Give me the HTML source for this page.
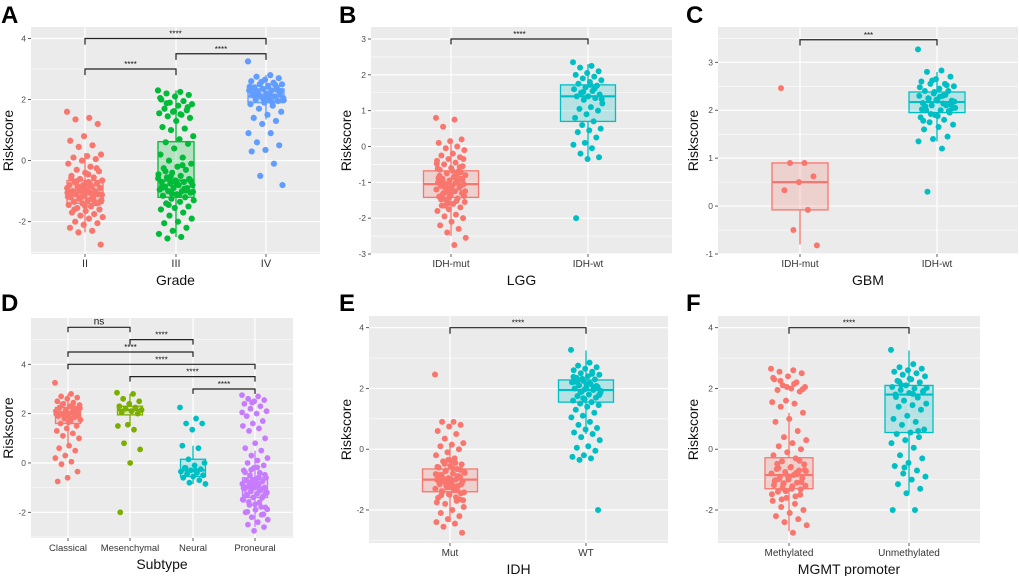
<!DOCTYPE html>
<html><head><meta charset="utf-8"><style>
html,body{margin:0;padding:0;background:#fff;}
svg{display:block;font-family:"Liberation Sans",Arial,sans-serif;}
</style></head><body>
<svg id="fig" width="1020" height="576" viewBox="0 0 1020 576"></svg>
<script>
// ---------- Panel A (Grade) ----------
const A_cats=['II','III','IV'];
const A_q1=[-1.4,-1.2,1.9], A_med=[-1.05,-0.65,2.1], A_q3=[-0.65,0.62,2.35], A_lo=[-2.35,-2.5,1.35], A_hi=[0.25,2.3,2.8];
const A_pts=[
[1.6,1.4,1.35,1.2,0.8,0.65,0.5,0.45,0.2,0.15,0.1,0.05,0,-0.1,-0.2,-0.3,-0.35,-0.4,-0.5,-0.55,-0.6,-0.65,-0.7,-0.7,-0.75,-0.8,-0.8,-0.85,-0.9,-0.9,-0.95,-1,-1,-1,-1.05,-1.05,-1.1,-1.1,-1.15,-1.2,-1.2,-1.25,-1.3,-1.3,-1.35,-1.4,-1.4,-1.45,-1.5,-1.55,-1.6,-1.65,-1.7,-1.75,-1.8,-1.85,-1.9,-2,-2.05,-2.1,-2.2,-2.3,-2.35,-2.75,-0.95,-1.02,-1.08,-0.88,-1.18,-0.78,-0.68,-1.38,-1.48,-0.58,-1.28,-0.98,-1.12,-0.45,-1.6,-0.25,-0.92,-1.15,-1.25,-0.85,-1.35,-0.75,-1.0,-1.1,-1.2,-0.9],
[2.3,2.25,2.2,2.15,2.1,2.0,1.95,1.9,1.85,1.8,1.7,1.65,1.6,1.55,1.5,1.45,1.4,1.3,1.1,1.05,1.0,0.8,0.7,0.6,0.55,0.4,0.2,0.1,0,-0.1,-0.2,-0.25,-0.3,-0.4,-0.45,-0.5,-0.55,-0.6,-0.65,-0.7,-0.7,-0.75,-0.8,-0.8,-0.85,-0.9,-0.9,-0.95,-1.0,-1.0,-1.05,-1.1,-1.15,-1.2,-1.25,-1.3,-1.35,-1.4,-1.5,-1.55,-1.6,-1.7,-1.8,-1.9,-2.0,-2.05,-2.2,-2.3,-2.4,-2.5,-2.55,-0.62,-0.72,-0.82,-0.92,-0.52,-1.02,-1.12,-0.35,1.75,1.62,2.05,-0.15,-1.45,-0.68,-0.78,-0.88,-0.98,-1.08,-0.58,1.52,1.88],
[3.25,2.8,2.75,2.7,2.65,2.6,2.55,2.5,2.5,2.45,2.4,2.4,2.35,2.3,2.3,2.25,2.2,2.2,2.15,2.1,2.1,2.05,2.0,2.0,1.95,1.9,1.85,1.8,1.7,1.6,1.5,1.4,1.3,1.2,0.9,0.9,0.6,0.5,0.35,0.3,-0.1,-0.5,-0.8,2.12,2.22,2.32,2.02,2.42,1.92,2.18,2.28,2.08,2.38,2.48,2.58,1.98,2.15,2.25]
];
// ---------- Panel B (LGG) ----------
const B_cats=['IDH-mut','IDH-wt'];
const B_q1=[-1.42,0.7], B_med=[-1.05,1.4], B_q3=[-0.68,1.72], B_lo=[-2.5,-0.35], B_hi=[0.15,2.3];
const B_pts=[
[0.8,0.75,0.55,0.2,0.15,0.1,0,-0.05,-0.1,-0.2,-0.25,-0.3,-0.35,-0.4,-0.45,-0.5,-0.55,-0.6,-0.65,-0.7,-0.75,-0.8,-0.85,-0.9,-0.9,-0.95,-1,-1,-1.05,-1.05,-1.1,-1.1,-1.15,-1.2,-1.2,-1.25,-1.3,-1.3,-1.35,-1.4,-1.45,-1.5,-1.55,-1.6,-1.65,-1.7,-1.75,-1.8,-1.9,-1.95,-2.0,-2.1,-2.2,-2.3,-2.4,-2.55,-2.75,-0.98,-1.08,-1.18,-0.88,-0.78,-1.28,-1.38,-0.68,-1.48,-0.58,-1.58,-0.48,-1.02,-1.12,-0.92,-1.22,-0.82,-0.95,-1.15,-1.25,-0.85,-1.35,-0.72,-1.42,-0.62,-1.52,-1.65,-0.35],
[2.35,2.25,2.2,2.1,2.05,2.0,1.95,1.9,1.85,1.8,1.75,1.7,1.65,1.6,1.55,1.5,1.45,1.4,1.4,1.35,1.3,1.2,1.1,1.05,1.0,0.9,0.8,0.7,0.6,0.5,0.45,0.4,0.25,0.1,0.05,-0.05,-0.2,-0.3,-0.35,-2.0,1.62,1.52,1.32,1.72]
];
// ---------- Panel C (GBM) ----------
const C_cats=['IDH-mut','IDH-wt'];
const C_q1=[-0.08,1.95], C_med=[0.5,2.17], C_q3=[0.9,2.38], C_lo=[-0.8,1.35], C_hi=[0.9,2.8];
const C_pts=[
[2.46,0.9,0.9,0.62,0.5,0.33,-0.08,-0.5,-0.82],
[3.27,2.83,2.8,2.7,2.65,2.6,2.55,2.55,2.5,2.45,2.4,2.4,2.35,2.3,2.3,2.25,2.2,2.2,2.15,2.1,2.1,2.05,2.0,2.0,1.95,1.9,1.85,1.8,1.75,1.7,1.65,1.6,1.45,1.4,1.35,1.2,0.3,2.12,2.22,2.02,2.32,1.92,2.18,2.28,2.08,1.98,2.38,2.48,2.14,2.24,2.04,1.88,1.78,2.52,2.62]
];
// ---------- Panel D (Subtype) ----------
const D_cats=['Classical','Mesenchymal','Neural','Proneural'];
const D_q1=[1.6,1.95,-0.55,-1.4], D_med=[2.0,2.15,-0.3,-1.0], D_q3=[2.25,2.3,0.15,-0.6], D_lo=[0.7,1.5,-0.85,-2.6], D_hi=[2.8,2.8,0.7,0.5];
const D_pts=[
[3.25,2.8,2.7,2.65,2.6,2.5,2.45,2.4,2.35,2.3,2.25,2.2,2.15,2.1,2.05,2.0,2.0,1.95,1.9,1.85,1.8,1.75,1.7,1.6,1.5,1.4,1.3,1.2,1.1,1.0,0.7,0.6,0.5,0.3,0.2,0.05,-0.05,-0.35,-0.6,-0.75,2.12,1.92,2.22,1.82,2.02,2.18,2.08,1.98,2.28,2.38,1.88,1.65],
[2.85,2.8,2.6,2.5,2.4,2.3,2.25,2.2,2.15,2.1,2.05,2.0,1.55,1.5,1.35,0.8,0.55,0.0,-2.0],
[2.25,1.8,1.6,1.6,1.35,0.7,0.6,0.15,0.0,-0.1,-0.2,-0.25,-0.3,-0.35,-0.4,-0.45,-0.5,-0.55,-0.6,-0.7,-0.8,-0.85,-0.3,-0.2],
[2.75,2.7,2.6,2.55,2.5,2.4,2.3,2.2,2.1,2.0,1.9,1.7,1.6,1.5,1.4,1.3,1.0,0.8,0.6,0.5,0.3,0.2,0.1,0,-0.1,-0.2,-0.3,-0.4,-0.5,-0.6,-0.65,-0.7,-0.75,-0.8,-0.85,-0.9,-0.95,-1,-1,-1.05,-1.1,-1.15,-1.2,-1.25,-1.3,-1.35,-1.4,-1.5,-1.6,-1.7,-1.8,-1.9,-2.0,-2.1,-2.2,-2.3,-2.4,-2.5,-2.6,-2.75,-0.98,-1.08,-0.88,-1.18,-0.78,-1.28,-1.38,-0.68,-1.48,-0.58,-1.58,-0.48,-1.68,-0.38,-1.78,-0.28,-1.88,-0.18,-1.98,-2.08,-0.92,-1.02,-1.12,-0.82,-1.22,-0.72,-1.32,-1.42,2.45,2.05]
];
// ---------- Panel E (IDH) ----------
const E_cats=['Mut','WT'];
const E_q1=[-1.4,1.55], E_med=[-1.0,1.95], E_q3=[-0.65,2.28], E_lo=[-2.4,0.5], E_hi=[0.2,3.25];
const E_pts=[
[2.46,0.9,0.9,0.8,0.75,0.6,0.5,0.35,0.2,0.15,0.1,0,-0.1,-0.2,-0.3,-0.4,-0.5,-0.55,-0.6,-0.65,-0.7,-0.75,-0.8,-0.85,-0.9,-0.95,-1,-1,-1.05,-1.05,-1.1,-1.15,-1.2,-1.25,-1.3,-1.35,-1.4,-1.45,-1.5,-1.6,-1.7,-1.8,-1.9,-2.0,-2.1,-2.2,-2.3,-2.4,-2.45,-2.55,-2.75,-0.98,-1.08,-0.88,-1.18,-0.78,-1.28,-1.38,-0.68,-1.48,-0.58,-1.58,-0.48,-1.68,-0.38,-1.02,-0.92,-1.12,-0.82,-1.22,-0.95,-1.15,-1.25,-0.85,-1.35,-0.72,-1.42,-0.62,-1.52,-1.65,-0.35,-1.75,-0.45],
[3.27,2.85,2.75,2.7,2.65,2.6,2.55,2.5,2.45,2.4,2.35,2.3,2.25,2.2,2.15,2.1,2.05,2.0,2.0,1.95,1.9,1.85,1.8,1.75,1.7,1.65,1.6,1.55,1.5,1.45,1.4,1.3,1.2,1.1,1.05,0.9,0.8,0.7,0.65,0.55,0.5,0.4,0.3,0.1,0.05,-0.05,-0.2,-0.25,-0.3,-0.35,-2.0,2.12,2.22,2.02,2.32,1.92,2.18,2.28,2.08,1.98,2.38,2.48,1.88,1.78,2.14,2.24,2.04,1.68]
];
// ---------- Panel F (MGMT promoter) ----------
const F_cats=['Methylated','Unmethylated'];
const F_q1=[-1.3,0.55], F_med=[-0.85,1.8], F_q3=[-0.28,2.1], F_lo=[-2.7,-1.45], F_hi=[1.2,3.25];
const F_pts=[
[2.65,2.6,2.55,2.5,2.4,2.3,2.2,2.1,2.05,2.0,1.95,1.9,1.6,1.55,1.5,1.4,1.2,1.0,0.9,0.6,0.4,0.3,0.2,0.1,0,-0.1,-0.2,-0.3,-0.4,-0.5,-0.6,-0.65,-0.7,-0.75,-0.8,-0.85,-0.9,-0.95,-1,-1.05,-1.1,-1.15,-1.2,-1.3,-1.4,-1.5,-1.6,-1.7,-1.8,-1.9,-2.0,-2.1,-2.2,-2.3,-2.4,-2.5,-2.75,-0.98,-1.08,-0.88,-1.18,-0.78,-1.28,-0.68,-0.58,-0.48,-0.38,-1.38,-1.48,2.15,2.25,1.98,-0.92,-1.02,-0.82,-1.12,-0.72,-1.22,-0.62,-1.32,2.05,2.35,-1.55,-1.65],
[3.27,2.8,2.7,2.65,2.6,2.55,2.5,2.45,2.4,2.3,2.25,2.2,2.1,2.05,2.0,1.95,1.9,1.85,1.8,1.7,1.6,1.5,1.45,1.4,1.3,1.1,1.0,0.9,0.8,0.65,0.55,0.5,0.4,0.3,0.2,0.05,-0.2,-0.3,-0.45,-0.55,-0.7,-0.8,-0.9,-1.0,-1.15,-1.3,-1.45,-2.0,-2.0,2.12,1.92,2.32,1.72,0.6,-0.6,2.02,1.82,2.22]
];

const NS='http://www.w3.org/2000/svg';
const svg=document.getElementById('fig');
function mk(tag,attrs,parent){const e=document.createElementNS(NS,tag);for(const k in attrs)e.setAttribute(k,attrs[k]);(parent||svg).appendChild(e);return e;}
const COLORS={A:['#F8766D','#00BA38','#619CFF'],B:['#F8766D','#00BFC4'],C:['#F8766D','#00BFC4'],D:['#F8766D','#7CAE00','#00BFC4','#C77CFF'],E:['#F8766D','#00BFC4'],F:['#F8766D','#00BFC4']};

function panel(cfg){
  const g=mk('g',{});
  
  
  const y=v=>cfg.y0+(v-cfg.v0)*(cfg.y1-cfg.y0)/(cfg.v1-cfg.v0);
  const x=i=>cfg.cx[i];
  const bg=mk('rect',{x:cfg.L,y:cfg.T,width:cfg.R-cfg.L,height:cfg.B-cfg.T,fill:'#EBEBEB'},g);
  
  
  cfg.minor.forEach(v=>{const yy=y(v);if(yy>=cfg.T&&yy<=cfg.B)mk('line',{x1:cfg.L,x2:cfg.R,y1:yy,y2:yy,stroke:'#fff','stroke-width':0.6},g);});
  cfg.major.forEach(v=>{const yy=y(v);
    const gl=mk('line',{x1:cfg.L,x2:cfg.R,y1:yy,y2:yy,stroke:'#fff','stroke-width':1.2},g);
    
    
    mk('line',{x1:cfg.L-3,x2:cfg.L,y1:yy,y2:yy,stroke:'#333','stroke-width':0.8},g);
    const t=mk('text',{x:cfg.L-5,y:yy+3,'font-size':8.5,fill:'#4D4D4D','text-anchor':'end'},g);
    t.textContent=''+v;
    
    
  });
  cfg.cats.forEach((c,i)=>{
    mk('line',{x1:x(i),x2:x(i),y1:cfg.T,y2:cfg.B,stroke:'#fff','stroke-width':1.2},g);
    mk('line',{x1:x(i),x2:x(i),y1:cfg.B,y2:cfg.B+3,stroke:'#333','stroke-width':0.8},g);
    const t=mk('text',{x:x(i),y:cfg.B+13,'font-size':cfg.tfs||10,fill:'#333','text-anchor':'middle'},g);
    t.textContent=c;
    
    
  });
  cfg.cats.forEach((c,i)=>{
    const col=cfg.col[i],hw=cfg.bw/2,cx=x(i);
    const bx=mk('g',{},g);
    
    
    mk('line',{x1:cx,x2:cx,y1:y(cfg.lo[i]),y2:y(cfg.q1[i]),stroke:col,'stroke-width':1.3},bx);
    mk('line',{x1:cx,x2:cx,y1:y(cfg.q3[i]),y2:y(cfg.hi[i]),stroke:col,'stroke-width':1.3},bx);
    mk('rect',{x:cx-hw,y:y(cfg.q3[i]),width:cfg.bw,height:y(cfg.q1[i])-y(cfg.q3[i]),fill:col,'fill-opacity':0.22,stroke:col,'stroke-width':1.3},bx);
    mk('line',{x1:cx-hw,x2:cx+hw,y1:y(cfg.med[i]),y2:y(cfg.med[i]),stroke:col,'stroke-width':2.2},bx);
  });
  cfg.cats.forEach((c,i)=>{
    const col=cfg.col[i];
    const pg=mk('g',{fill:col},g);
    
    
    cfg.pts[i].forEach((v,k)=>{
      const off=(((k*0.6180339)%1)-0.5)*cfg.jw;
      const p=mk('circle',{cx:x(i)+off,cy:y(v),r:cfg.r||3},pg);
      
      
    });
  });
  cfg.br.forEach(b=>{
    const x1=x(b[0]),x2=x(b[1]),yy=y(b[2]),yd=y(b[2]-cfg.tick);
    const bg2=mk('g',{},g);
    
    
    mk('path',{d:`M${x1},${yd}V${yy}H${x2}V${yd}`,fill:'none',stroke:'#222','stroke-width':1.2},bg2);
    const t=mk('text',{x:(x1+x2)/2,y:yy-(b[3]==='ns'?3:2),'font-size':b[3]==='ns'?10:8,fill:'#111','text-anchor':'middle'},bg2);
    t.textContent=b[3];
  });
  const xt=mk('text',{x:(cfg.L+cfg.R)/2,y:cfg.B+31,'font-size':14,fill:'#111','text-anchor':'middle'},g);
  xt.textContent=cfg.xtitle;
  
  
  const ymid=(cfg.T+cfg.B)/2;
  const yt=mk('text',{x:cfg.yx,y:ymid,'font-size':14,fill:'#111','text-anchor':'middle',transform:`rotate(-90 ${cfg.yx} ${ymid})`},g);
  yt.textContent='Riskscore';
  
  
  const lt=mk('text',{x:cfg.lx,y:cfg.ly,'font-size':24,'font-weight':'bold',fill:'#000'},g);
  lt.textContent=cfg.id;
  
  
}

panel({id:'A',L:31,R:320,T:27,B:254,v0:4,y0:38.5,v1:-2,y1:221.7,cx:[85,176,266],cats:A_cats,col:COLORS.A,
  q1:A_q1,med:A_med,q3:A_q3,lo:A_lo,hi:A_hi,pts:A_pts,bw:36,jw:36,r:3.1,major:[-2,0,2,4],minor:[-3,-1,1,3],
  br:[[0,1,3.0,'****'],[1,2,3.5,'****'],[0,2,4.0,'****']],tick:0.2,xtitle:'Grade',yx:13,lx:1,ly:23,tfs:11});
panel({id:'B',L:371,R:672,T:27,B:254,v0:3,y0:39,v1:-3,y1:254,cx:[451,588],cats:B_cats,col:COLORS.B,
  q1:B_q1,med:B_med,q3:B_q3,lo:B_lo,hi:B_hi,pts:B_pts,bw:55,jw:30,r:3,major:[-3,-2,-1,0,1,2,3],minor:[-2.5,-1.5,-0.5,0.5,1.5,2.5],
  br:[[0,1,3.0,'****']],tick:0.15,xtitle:'LGG',yx:351,lx:339,ly:23});
panel({id:'C',L:718,R:1018,T:27,B:254,v0:3,y0:62.3,v1:-1,y1:254,cx:[800,937],cats:C_cats,col:COLORS.C,
  q1:C_q1,med:C_med,q3:C_q3,lo:C_lo,hi:C_hi,pts:C_pts,bw:56,jw:38,r:3,major:[-1,0,1,2,3],minor:[-0.5,0.5,1.5,2.5,3.5],
  br:[[0,1,3.47,'***']],tick:0.12,xtitle:'GBM',yx:698,lx:686,ly:23});
panel({id:'D',L:31,R:293,T:318,B:538,v0:4,y0:364.3,v1:-2,y1:512.3,cx:[68,130,193,255],cats:D_cats,col:COLORS.D,
  q1:D_q1,med:D_med,q3:D_q3,lo:D_lo,hi:D_hi,pts:D_pts,bw:25,jw:26,r:2.9,major:[-2,0,2,4],minor:[-3,-1,1,3,5],
  br:[[0,1,5.5,'ns'],[1,2,5.0,'****'],[0,2,4.5,'****'],[0,3,4.0,'****'],[1,3,3.5,'****'],[2,3,3.0,'****']],tick:0.2,xtitle:'Subtype',yx:13,lx:1,ly:311,tfs:9.5});
panel({id:'E',L:369,R:668,T:316,B:543,v0:4,y0:327.7,v1:-2,y1:510,cx:[450,586],cats:E_cats,col:COLORS.E,
  q1:E_q1,med:E_med,q3:E_q3,lo:E_lo,hi:E_hi,pts:E_pts,bw:55,jw:30,r:3,major:[-2,0,2,4],minor:[-3,-1,1,3],
  br:[[0,1,4.0,'****']],tick:0.2,xtitle:'IDH',yx:351,lx:339,ly:311});
panel({id:'F',L:718,R:980,T:316,B:543,v0:4,y0:327.7,v1:-2,y1:510,cx:[789,909],cats:F_cats,col:COLORS.F,
  q1:F_q1,med:F_med,q3:F_q3,lo:F_lo,hi:F_hi,pts:F_pts,bw:48,jw:36,r:3,major:[-2,0,2,4],minor:[-3,-1,1,3],
  br:[[0,1,4.0,'****']],tick:0.2,xtitle:'MGMT promoter',yx:698,lx:686,ly:311});
</script>
</body></html>
